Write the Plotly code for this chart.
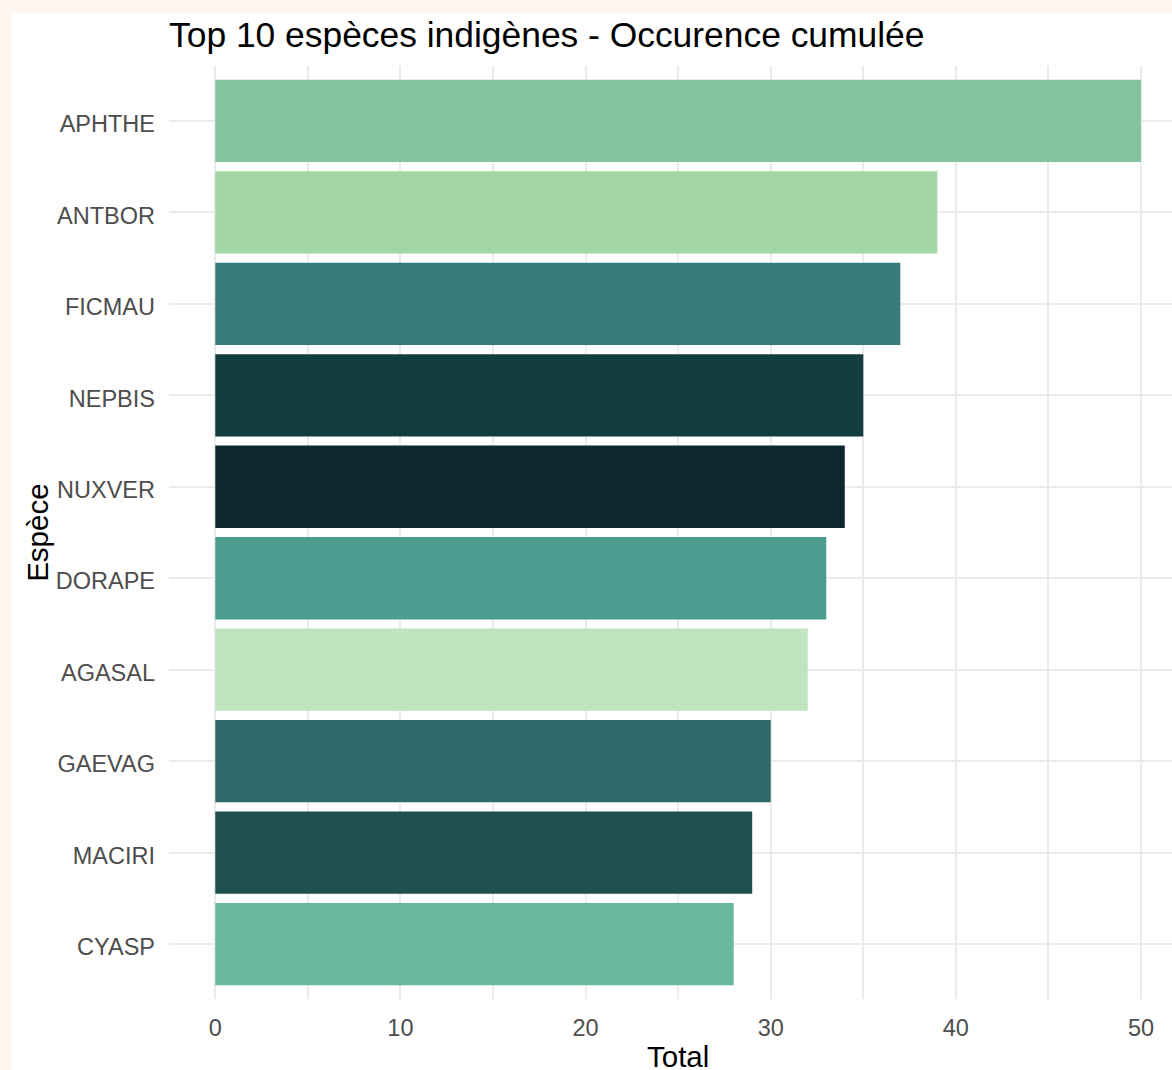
import plotly.graph_objects as go

species = ["APHTHE", "ANTBOR", "FICMAU", "NEPBIS", "NUXVER",
           "DORAPE", "AGASAL", "GAEVAG", "MACIRI", "CYASP"]
totals = [50, 39, 37, 35, 34, 33, 32, 30, 29, 28]
colors = ["#82c49f", "#a3d6a5", "#377b7b", "#123c3e", "#0c272e",
          "#4c9c90", "#c0e3c0", "#2e6a69", "#1f4f4f", "#68b89f"]
x_ticks = [0, 10, 20, 30, 40, 50]

W, H = 1172, 1070
left_px, right_px, top_px, bottom_px = 168.7, 1172, 66, 999
PEACH = "#fdf6f1"

fig = go.Figure()
fig.add_trace(go.Bar(
    x=totals, y=species, orientation="h",
    marker=dict(color=colors, line=dict(width=0)),
    width=0.9, showlegend=False,
))

font_family = "Liberation Sans, Arial, sans-serif"

fig.update_layout(
    width=W, height=H,
    margin=dict(l=left_px, r=W - right_px, t=top_px, b=H - bottom_px, pad=0),
    paper_bgcolor=PEACH,
    plot_bgcolor="rgba(0,0,0,0)",
    font=dict(family=font_family),
    title=dict(text="Top 10 espèces indigènes - Occurence cumulée",
               x=0, xref="paper", xanchor="left",
               y=1 - 35 / H, yref="container", yanchor="middle",
               font=dict(size=35.4, color="#000000", family=font_family)),
    xaxis=dict(range=[-2.5, (right_px - 215) / 18.52],
               tickvals=x_ticks, ticktext=[str(v) for v in x_ticks],
               showgrid=True, gridcolor="#ebebeb", gridwidth=2,
               minor=dict(dtick=5, tick0=0, showgrid=True, gridcolor="#ebebeb", gridwidth=1.6),
               zeroline=False, showline=False, ticks="",
               tickfont=dict(size=23.5, color="#4d4d4d"),
               ticklabelstandoff=12),
    yaxis=dict(categoryorder="array", categoryarray=species,
               range=[9.6, -0.6],
               showgrid=True, gridcolor="#ebebeb", gridwidth=2,
               zeroline=False, showline=False, ticks="",
               tickfont=dict(size=23.5, color="#4d4d4d"),
               ticklabelstandoff=13, ticklabelshift=-3),
    bargap=0.1,
)

plot_w = right_px - left_px
plot_h = bottom_px - top_px
fig.add_shape(type="rect", xref="paper", yref="paper", layer="below",
              x0=(11 - left_px) / plot_w, x1=1.05,
              y0=-0.2, y1=(bottom_px - 13) / plot_h,
              fillcolor="#ffffff", line=dict(width=0))

fig.add_annotation(text="Total", xref="x", yref="paper", x=25,
                   y=(bottom_px - 1056) / plot_h, yanchor="middle", xanchor="center",
                   showarrow=False, font=dict(size=29.5, color="#000000"))
fig.add_annotation(text="Espèce", xref="paper", yref="paper",
                   x=(37 - left_px) / plot_w, y=0.5, textangle=-90,
                   xanchor="center", yanchor="middle",
                   showarrow=False, font=dict(size=29.5, color="#000000"))

fig.write_html("out.html",
               config={"displayModeBar": False},
               post_script="document.body.style.margin='0';"
                           "document.body.style.overflow='hidden';"
                           "document.body.style.background='" + PEACH + "';")
